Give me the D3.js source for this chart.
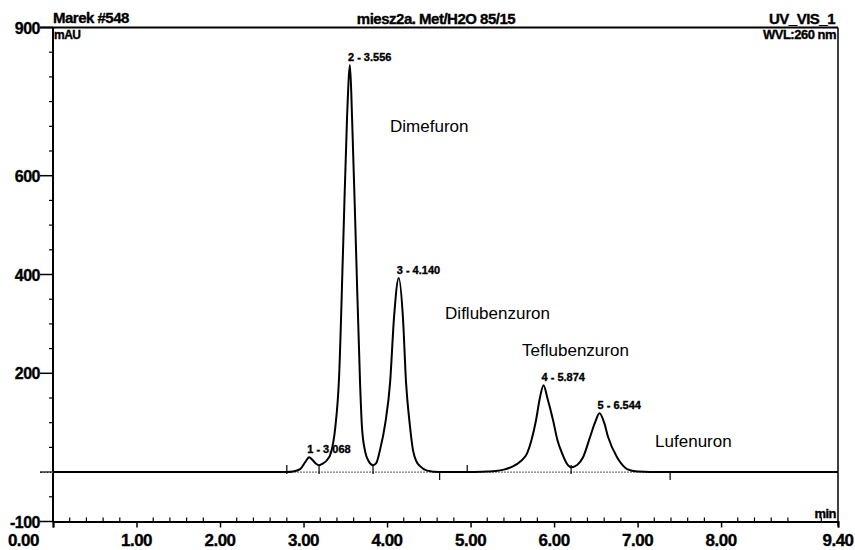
<!DOCTYPE html>
<html>
<head>
<meta charset="utf-8">
<script src="https://cdn.jsdelivr.net/npm/d3@7"></script>
<style>
    body  { margin: 0; background: #fff; }
    text  { font-family: 'Liberation Sans', Arial, sans-serif; fill: #000; }
    .bold { font-weight: bold; stroke: #000; stroke-width: 0.35px; }
</style>
</head>
<body>
<div id="graph"></div>
<script>
// Chromatogram trace (time in min, signal in mAU)
var traceTime  = [ 0.00, 2.80, 2.874, 2.96, 3.02, 3.068, 3.11, 3.15, 3.186, 3.23, 3.28, 3.33, 3.38, 3.425, 3.473, 3.521, 3.556,
                   3.581, 3.629, 3.677, 3.70, 3.74, 3.78, 3.832, 3.87, 3.916, 3.98, 4.036, 4.084, 4.140,
                   4.19, 4.228, 4.27, 4.31, 4.35, 4.395, 4.48, 4.63, 5.00, 5.198, 5.30, 5.40, 5.50, 5.60, 5.677, 5.73, 5.784, 5.83, 5.874,
                   5.92, 5.988, 6.04, 6.096, 6.15, 6.204, 6.28, 6.347, 6.431, 6.49, 6.544, 6.60, 6.647, 6.754, 6.82, 6.874, 7.00, 7.15, 9.40 ];
var traceValue = [ 0, 0, 1, 6, 20, 30, 24, 17, 14, 17, 24, 40, 90, 190, 449, 718, 824,
                   718, 449, 180, 90, 40, 22, 14, 18, 45, 100, 180, 314, 393,
                   314, 180, 100, 45, 22, 12, 3, 0, 0, 1, 2, 5, 11, 22, 38, 65, 105, 150, 176,
                   150, 105, 65, 38, 18, 10, 15, 30, 71, 100, 119, 100, 71, 30, 14, 6, 1, 0, 0 ];

// Peak annotations
var peakLabels  = [ '1 - 3.068', '2 - 3.556', '3 - 4.140', '4 - 5.874', '5 - 6.544' ];
var peakTimes   = [ 3.068, 3.556, 4.140, 5.874, 6.544 ];
var peakHeights = [ 30, 824, 393, 176, 119 ];

// Compound names and where they sit (data units)
var compoundNames  = [ 'Dimefuron', 'Diflubenzuron', 'Teflubenzuron', 'Lufenuron' ];
var compoundTimes  = [ 4.036, 4.695, 5.617, 7.21 ];
var compoundValues = [ 688, 310, 235, 51 ];

// Integration marks on the baseline
var markTimes = [ 2.80, 3.186, 3.832, 6.204 ];
var dropTimes = [ 4.63, 7.39 ];
var riseTimes = [ 4.96 ];

// Axis ticks
var xMajorTicks  = [ 0, 1, 2, 3, 4, 5, 6, 7, 8, 9.4 ];
var xTickLabels  = [ '0.00', '1.00', '2.00', '3.00', '4.00', '5.00', '6.00', '7.00', '8.00', '9.40' ];
var yMajorTicks  = [ -100, 0, 200, 400, 600, 900 ];
var yTickLabels  = [ '-100', '', '200', '400', '600', '900' ];

// Header texts
var headerLeft   = 'Marek #548';
var headerCenter = 'miesz2a. Met/H2O 85/15';
var headerRight  = 'UV_VIS_1';
var unitLeft     = 'mAU';
var unitRight    = 'WVL:260 nm';
var unitX        = 'min';

var width  = 855;
var height = 550;

var svg = d3.select ('#graph')
            .append ('svg')
            .attr ('width', width)
            .attr ('height', height);

var xScale = d3.scaleLinear ()
               .domain ( [ 0, 9.4 ] )
               .range ( [ 53, 838 ] );

var yScale = d3.scaleLinear ()
               .domain ( [ -100, 900 ] )
               .range ( [ 521.5, 27.5 ] );

// Frame: top line, left axis, right edge
svg.append ('line')
   .attr ('x1', 40).attr ('x2', xScale (9.4))
   .attr ('y1', yScale (900)).attr ('y2', yScale (900))
   .style ('stroke', '#000').style ('stroke-width', 2);

svg.append ('line')
   .attr ('x1', xScale (0)).attr ('x2', xScale (0))
   .attr ('y1', yScale (900)).attr ('y2', yScale (-100))
   .style ('stroke', '#000').style ('stroke-width', 2);

svg.append ('line')
   .attr ('x1', xScale (9.4)).attr ('x2', xScale (9.4))
   .attr ('y1', yScale (900)).attr ('y2', yScale (-100) + 4)
   .style ('stroke', '#000').style ('stroke-width', 1.5);

// X axis: major ticks down, minor ticks up
var xAxis = d3.axisBottom (xScale)
              .tickValues (xMajorTicks)
              .tickSize (6)
              .tickFormat ('');

var gx = svg.append ('g')
            .attr ('transform', 'translate(0,' + yScale (-100) + ')')
            .call (xAxis);

gx.select ('.domain').style ('stroke-width', 2);
gx.selectAll ('.tick line').style ('stroke-width', 1.5);

var xMinor = d3.range (0, 47).map (function (i) { return i * 0.2; })
               .filter (function (d) { return Math.abs (d - Math.round (d)) > 0.01; });

svg.selectAll ('.xminor')
   .data (xMinor)
   .enter ()
   .append ('line')
   .attr ('class', 'xminor')
   .attr ('x1', function (d) { return xScale (d); })
   .attr ('x2', function (d) { return xScale (d); })
   .attr ('y1', yScale (-100))
   .attr ('y2', yScale (-100) - 4)
   .style ('stroke', '#000').style ('stroke-width', 1.2);

svg.selectAll ('.xlabel')
   .data (xMajorTicks)
   .enter ()
   .append ('text')
   .attr ('class', 'xlabel bold')
   .attr ('x', function (d, i) { return i == 0 ? xScale (d) - 14 : xScale (d); })
   .attr ('y', 546)
   .attr ('text-anchor', function (d, i) { return i == 0 ? 'end' : 'middle'; })
   .style ('font-size', '17px')
   .style ('letter-spacing', '-0.5px')
   .text (function (d, i) { return xTickLabels[i]; });

// Y axis: major ticks with labels, minor ticks every 50
var yMinor = d3.range (-100, 901, 50).filter (function (d) { return yMajorTicks.indexOf (d) < 0; });

svg.selectAll ('.yminor')
   .data (yMinor)
   .enter ()
   .append ('line')
   .attr ('class', 'yminor')
   .attr ('x1', xScale (0) - 4)
   .attr ('x2', xScale (0))
   .attr ('y1', function (d) { return yScale (d); })
   .attr ('y2', function (d) { return yScale (d); })
   .style ('stroke', '#000').style ('stroke-width', 1.2);

svg.selectAll ('.ymajor')
   .data (yMajorTicks)
   .enter ()
   .append ('line')
   .attr ('class', 'ymajor')
   .attr ('x1', 40)
   .attr ('x2', xScale (0))
   .attr ('y1', function (d) { return yScale (d); })
   .attr ('y2', function (d) { return yScale (d); })
   .style ('stroke', '#000').style ('stroke-width', 1.5);

svg.selectAll ('.ylabel')
   .data (yMajorTicks)
   .enter ()
   .append ('text')
   .attr ('class', 'ylabel bold')
   .attr ('x', 40)
   .attr ('y', function (d) { return yScale (d) + 6; })
   .attr ('text-anchor', 'end')
   .style ('font-size', '16px')
   .style ('letter-spacing', '-0.5px')
   .text (function (d, i) { return yTickLabels[i]; });

// Zero baseline, dotted grey
svg.append ('line')
   .attr ('x1', 42).attr ('x2', xScale (9.4))
   .attr ('y1', yScale (0)).attr ('y2', yScale (0))
   .style ('stroke', '#777').style ('stroke-width', 1.2)
   .style ('stroke-dasharray', '2,1');

// Integration marks
svg.selectAll ('.mark')
   .data (markTimes)
   .enter ()
   .append ('line')
   .attr ('x1', function (d) { return xScale (d); })
   .attr ('x2', function (d) { return xScale (d); })
   .attr ('y1', yScale (0) - 7)
   .attr ('y2', yScale (0) + 2)
   .style ('stroke', '#000').style ('stroke-width', 1.2);

svg.selectAll ('.drop')
   .data (dropTimes)
   .enter ()
   .append ('line')
   .attr ('x1', function (d) { return xScale (d); })
   .attr ('x2', function (d) { return xScale (d); })
   .attr ('y1', yScale (0))
   .attr ('y2', yScale (0) + 8)
   .style ('stroke', '#000').style ('stroke-width', 1.2);

svg.selectAll ('.rise')
   .data (riseTimes)
   .enter ()
   .append ('line')
   .attr ('x1', function (d) { return xScale (d); })
   .attr ('x2', function (d) { return xScale (d); })
   .attr ('y1', yScale (0))
   .attr ('y2', yScale (0) - 7)
   .style ('stroke', '#000').style ('stroke-width', 1.2);

// The trace
var trace = traceTime.map (function (t, i) { return { x: t, y: traceValue[i] }; });

var line = d3.line ()
             .x (function (d) { return xScale (d.x); })
             .y (function (d) { return yScale (d.y); })
             .curve (d3.curveMonotoneX);

svg.append ('path')
   .datum (trace)
   .attr ('d', line)
   .style ('fill', 'none')
   .style ('stroke', '#000')
   .style ('stroke-width', 2)
   .style ('stroke-linejoin', 'round');

// Peak labels
svg.selectAll ('.peak')
   .data (peakTimes)
   .enter ()
   .append ('text')
   .attr ('class', 'peak bold')
   .attr ('x', function (d) { return xScale (d) - 2; })
   .attr ('y', function (d, i) { return yScale (peakHeights[i]) - 4; })
   .style ('font-size', '11px')
   .text (function (d, i) { return peakLabels[i]; });

// Compound names
svg.selectAll ('.compound')
   .data (compoundNames)
   .enter ()
   .append ('text')
   .attr ('class', 'compound')
   .attr ('x', function (d, i) { return xScale (compoundTimes[i]); })
   .attr ('y', function (d, i) { return yScale (compoundValues[i]); })
   .style ('font-size', '17px')
   .text (function (d) { return d; });

// Header and units
svg.append ('text').attr ('class', 'bold')
   .attr ('x', 53).attr ('y', 23)
   .style ('font-size', '15px').style ('letter-spacing', '-0.5px')
   .text (headerLeft);

svg.append ('text').attr ('class', 'bold')
   .attr ('x', 436).attr ('y', 24)
   .attr ('text-anchor', 'middle')
   .style ('font-size', '15px').style ('letter-spacing', '-0.5px')
   .text (headerCenter);

svg.append ('text').attr ('class', 'bold')
   .attr ('x', 835).attr ('y', 24)
   .attr ('text-anchor', 'end')
   .style ('font-size', '15px').style ('letter-spacing', '-0.5px')
   .text (headerRight);

svg.append ('text').attr ('class', 'bold')
   .attr ('x', 54).attr ('y', 39)
   .style ('font-size', '12px').style ('letter-spacing', '-0.5px')
   .text (unitLeft);

svg.append ('text').attr ('class', 'bold')
   .attr ('x', 836).attr ('y', 39)
   .attr ('text-anchor', 'end')
   .style ('font-size', '13px').style ('letter-spacing', '-0.5px')
   .text (unitRight);

svg.append ('text').attr ('class', 'bold')
   .attr ('x', 836).attr ('y', 518)
   .attr ('text-anchor', 'end')
   .style ('font-size', '13px').style ('letter-spacing', '-0.5px')
   .text (unitX);
</script>
</body>
</html>
